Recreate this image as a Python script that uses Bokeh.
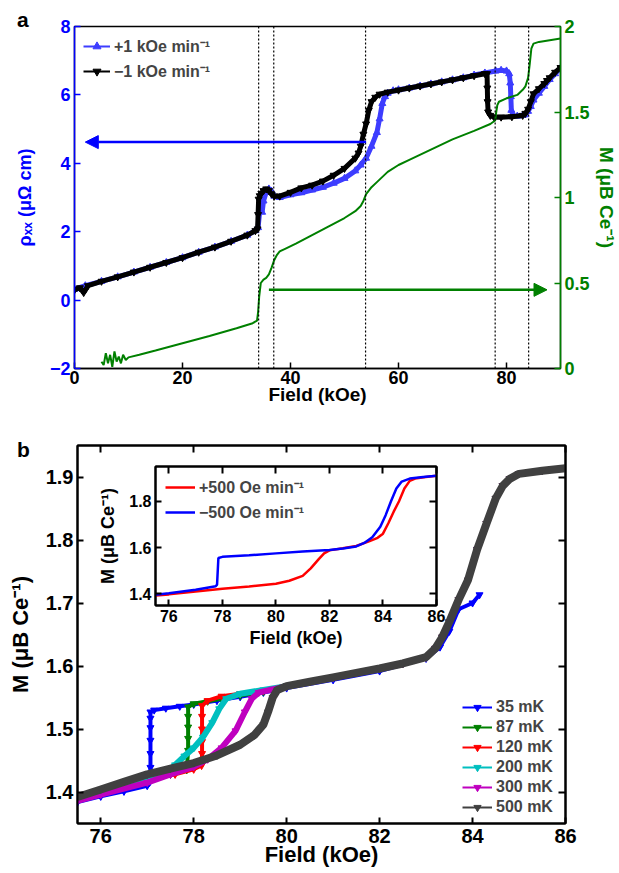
from bokeh.plotting import figure
from bokeh.models import (Range1d, LinearAxis, Span, Arrow, NormalHead, Legend,
                          LegendItem, FixedTicker, Div)
from bokeh.embed import file_html
from bokeh.resources import INLINE

FONT = "Liberation Sans"
NAN = float("nan")

# ---------------- panel a data ----------------
a_x_range = (0, 90)
a_rho_range = (-2, 8)
a_M_range = (0, 2)
a_x_ticks = [0, 20, 40, 60, 80]
a_rho_ticks = [-2, 0, 2, 4, 6, 8]
a_rho_labels = ["\u22122", "0", "2", "4", "6", "8"]
a_M_ticks = [0, 0.5, 1, 1.5, 2]
a_M_labels = ["0", "0.5", "1", "1.5", "2"]

a_up_F = [0, 2, 5, 8, 11, 14, 17, 20, 23, 26, 29, 32, 33.5, 34.0, 34.4, 34.75, 35.0, 35.5, 36.0, 36.5,
          37.0, 38, 40, 42, 44, 46, 48, 50, 52, 53, 54, 55, 56, 56.5, 57, 57.5, 58, 59, 60, 62,
          64, 66, 68, 70, 72, 74, 76, 78, 79, 80, 80.5, 80.7, 80.8, 80.9, 81.2, 82, 83, 83.5, 84, 84.5,
          85, 86, 87, 88, 89, 90]
a_up_rho = [0.32, 0.42, 0.55, 0.68, 0.82, 0.96, 1.10, 1.24, 1.40, 1.55, 1.72, 1.90, 2.03, 2.12, 2.75, 2.57, 2.90, 3.15, 3.25, 3.18,
            3.04, 3.00, 3.08, 3.14, 3.22, 3.30, 3.42, 3.56, 3.78, 3.95, 4.15, 4.50, 4.90, 5.30, 5.75, 5.95, 6.05, 6.12, 6.15, 6.20,
            6.26, 6.32, 6.38, 6.44, 6.50, 6.58, 6.64, 6.70, 6.72, 6.70, 6.62, 6.35, 5.95, 5.55, 5.40, 5.38, 5.40, 5.42, 5.52, 5.66,
            5.85, 6.05, 6.25, 6.45, 6.62, 6.78]

a_dn_F = [0, 1.0, 1.7, 2.5, 5, 8, 11, 14, 17, 20, 23, 26, 29, 32, 33.5, 33.9, 34.0, 34.1, 34.3, 34.6,
          35.0, 35.5, 36.0, 36.5, 37.0, 38, 40, 42, 44, 46, 48, 50, 52, 52.6, 53, 53.5, 54, 54.5, 55, 55.7,
          56.5, 58, 60, 62, 64, 66, 68, 70, 72, 74, 76, 76.4, 76.45, 76.5, 76.6, 77.0, 77.7, 79, 81, 83,
          83.5, 84, 84.5, 85, 86, 87, 87.5, 88, 89, 90]
a_dn_rho = [0.30, 0.36, 0.22, 0.42, 0.55, 0.68, 0.82, 0.96, 1.10, 1.24, 1.40, 1.55, 1.72, 1.90, 2.03, 2.08, 2.50, 2.95, 3.05, 3.12,
            3.20, 3.25, 3.20, 3.10, 3.04, 3.04, 3.15, 3.28, 3.36, 3.48, 3.65, 3.85, 4.15, 4.30, 4.50, 4.85, 5.15, 5.55, 5.80, 5.93,
            6.02, 6.08, 6.14, 6.20, 6.26, 6.32, 6.38, 6.44, 6.50, 6.56, 6.62, 6.62, 6.20, 5.80, 5.50, 5.40, 5.35, 5.35, 5.36, 5.40,
            5.46, 5.58, 5.80, 6.03, 6.18, 6.33, 6.42, 6.50, 6.66, 6.80]

a_M_F = [5.0, 5.4, 5.8, 6.2, 6.6, 7.0, 7.4, 7.8, 8.2, 8.6, 9.0, 9.5, 10, 12, 15, 20, 25, 30, 33, 33.8,
         34.0, 34.2, 34.5, 35.0, 35.5, 36.0, 36.5, 37.0, 37.5, 38, 39, 41, 44, 47, 50, 52, 53, 53.5, 54, 54.5,
         55, 56, 58, 60, 62, 66, 70, 74, 77, 77.9, 78.1, 78.3, 78.6, 80, 82, 83, 83.5, 84, 84.3, 84.6,
         85, 86, 88, 90]
a_M = [0.04, 0.02, 0.09, 0.03, 0.08, 0.01, 0.10, 0.04, 0.07, 0.03, 0.08, 0.05, 0.065, 0.08, 0.105, 0.148, 0.19, 0.235, 0.265, 0.28,
       0.33, 0.42, 0.50, 0.52, 0.53, 0.55, 0.59, 0.635, 0.665, 0.685, 0.70, 0.73, 0.78, 0.83, 0.88, 0.92, 0.95, 0.98, 1.02, 1.04,
       1.06, 1.09, 1.15, 1.19, 1.22, 1.28, 1.34, 1.39, 1.43, 1.45, 1.50, 1.54, 1.56, 1.58, 1.60, 1.63, 1.65, 1.70, 1.78, 1.87,
       1.90, 1.91, 1.92, 1.93]

a_dotted_F = [34.1, 36.9, 53.9, 77.9, 84.1]
a_arrow_rho_x = [54.0, 2.0]
a_arrow_rho_y = 4.62
a_arrow_M_x = [36.0, 87.5]
a_arrow_M_y = 0.46

# ---------------- panel b data ----------------
b_x_range = (75.5, 86)
b_y_range = (1.35, 1.95)
b_x_ticks = [76, 78, 80, 82, 84, 86]
b_y_ticks = [1.4, 1.5, 1.6, 1.7, 1.8, 1.9]

b_hi_F = [80.0, 80.5, 81.0, 81.5, 82.0, 82.5, 83.0, 83.2, 83.35, 83.5, 83.7, 83.9, 84.1, 84.3, 84.5, 84.65, 84.8, 85.0, 85.5, 86.0]
b_hi_M = [1.568, 1.575, 1.582, 1.589, 1.596, 1.604, 1.614, 1.628, 1.646, 1.670, 1.705, 1.736, 1.785, 1.826, 1.866, 1.886, 1.897, 1.905, 1.910, 1.914]

b35_F = [75.5, 76.0, 76.5, 77.0, 77.05, 77.07, 77.07, 77.07, 77.07, 77.07, 77.07, 77.15, 77.4, 77.7, 78.0, 78.5,
         79.0, 79.5, 80.0, 81.0, 82.0, 83.0, 83.3, 83.5, 83.7, 84.0, 84.15]
b35_M = [1.384, 1.393, 1.401, 1.410, 1.415, 1.439, 1.461, 1.482, 1.502, 1.517, 1.527, 1.530, 1.533, 1.536, 1.539, 1.545,
         1.551, 1.558, 1.565, 1.578, 1.592, 1.612, 1.630, 1.655, 1.690, 1.700, 1.713]
b87_F = [75.5, 76.0, 77.0, 77.5, 77.85, 77.88, 77.88, 77.88, 77.88, 77.88, 78.0, 78.3, 78.6, 79.0, 79.5]
b87_M = [1.388, 1.398, 1.418, 1.428, 1.435, 1.466, 1.485, 1.503, 1.520, 1.535, 1.540, 1.544, 1.548, 1.553, 1.559]
b120_F = [75.5, 76.0, 77.0, 77.6, 78.0, 78.17, 78.18, 78.18, 78.18, 78.18, 78.18, 78.3, 78.6, 79.0, 79.5]
b120_M = [1.388, 1.398, 1.418, 1.428, 1.436, 1.442, 1.461, 1.480, 1.500, 1.520, 1.537, 1.545, 1.552, 1.556, 1.561]
b200_F = [75.5, 76.0, 77.0, 77.4, 77.6, 77.8, 78.0, 78.2, 78.4, 78.55, 78.7, 79.0, 79.5]
b200_M = [1.388, 1.398, 1.418, 1.430, 1.443, 1.457, 1.470, 1.487, 1.510, 1.532, 1.548, 1.556, 1.562]
b300_F = [75.5, 76.0, 77.0, 77.5, 78.0, 78.3, 78.6, 78.9, 79.1, 79.25, 79.4, 79.7]
b300_M = [1.386, 1.396, 1.415, 1.428, 1.440, 1.452, 1.470, 1.497, 1.527, 1.548, 1.558, 1.563]
b500_F = [75.5, 76.0, 76.5, 77.0, 77.5, 78.0, 78.5, 79.0, 79.3, 79.5, 79.6, 79.7, 79.8]
b500_M = [1.392, 1.404, 1.416, 1.428, 1.437, 1.446, 1.458, 1.475, 1.490, 1.507, 1.527, 1.550, 1.562]

b_labels = ["35 mK", "87 mK", "120 mK", "200 mK", "300 mK", "500 mK"]
b_colors = ["#0000ff", "#008000", "#ff0000", "#00bfbf", "#bf00bf", "#404040"]
b_widths = [4, 4, 4, 6, 6, 8]

# ---------------- inset data ----------------
i_x_range = (75.5, 86)
i_y_range = (1.35, 1.95)
i_x_ticks = [76, 78, 80, 82, 84, 86]
i_y_ticks = [1.4, 1.6, 1.8]
i_up_F = [75.5, 76, 77, 78, 79, 80, 80.5, 81, 81.3, 81.6, 81.8, 82.0, 82.5, 83.0, 83.5, 83.8, 84.0, 84.2, 84.4, 84.6,
          84.8, 85.0, 85.2, 85.6, 86.0]
i_up_M = [1.393, 1.398, 1.410, 1.422, 1.432, 1.444, 1.457, 1.478, 1.510, 1.550, 1.575, 1.588, 1.597, 1.607, 1.628, 1.642,
          1.660, 1.705, 1.755, 1.800, 1.855, 1.888, 1.898, 1.905, 1.910]
i_dn_F = [75.5, 76, 77, 77.75, 77.8, 77.85, 78, 79, 80, 81, 82, 82.5, 83.0, 83.3, 83.6, 83.9, 84.1, 84.3, 84.5, 84.7,
          85.0, 85.5, 86.0]
i_dn_M = [1.396, 1.403, 1.418, 1.433, 1.440, 1.555, 1.560, 1.567, 1.575, 1.583, 1.590, 1.596, 1.605, 1.620, 1.645, 1.690,
          1.740, 1.800, 1.855, 1.885, 1.898, 1.905, 1.910]

BLUE_AX = "#0000ff"
BLUE_D = "#3d3dff"
GREEN = "#008000"


def abspos(left, top):
    return {"position": "absolute", "left": f"{left}px", "top": f"{top}px"}


def style_axis(ax, size, label_size, color="black", lw=1.5, ticks=None, labels=None,
               standoff=4, label_standoff=5):
    ax.axis_line_color = color
    ax.axis_line_width = lw
    ax.major_tick_line_color = color
    ax.major_tick_line_width = lw
    ax.major_tick_in = 6
    ax.major_tick_out = 0
    ax.minor_tick_line_color = None
    ax.major_label_text_font = FONT
    ax.major_label_text_font_style = "bold"
    ax.major_label_text_font_size = f"{size}px"
    ax.major_label_text_color = color
    ax.major_label_standoff = standoff
    ax.axis_label_text_font = FONT
    ax.axis_label_text_font_style = "bold"
    ax.axis_label_text_font_size = f"{label_size}px"
    ax.axis_label_text_color = color
    ax.axis_label_standoff = label_standoff
    if ticks is not None:
        ax.ticker = FixedTicker(ticks=ticks)
        if labels is not None:
            ax.major_label_overrides = dict(zip(ticks, labels))


def tick_only_axis(fig, side, ticks, lw):
    # ticks without labels: minor ticks carry no labels
    ax = LinearAxis(ticker=FixedTicker(ticks=[], minor_ticks=ticks))
    ax.axis_line_color = "black"
    ax.axis_line_width = lw
    ax.major_tick_line_color = None
    ax.minor_tick_line_color = "black"
    ax.minor_tick_line_width = lw
    ax.minor_tick_in = 7
    ax.minor_tick_out = 0
    ax.major_label_standoff = 0
    fig.add_layout(ax, side)
    return ax


def style_legend(leg, size, gw, gh, spacing, padding, margin, loc):
    leg.location = loc
    leg.border_line_alpha = 0
    leg.background_fill_alpha = 0
    leg.label_text_font = FONT
    leg.label_text_font_style = "bold"
    leg.label_text_font_size = f"{size}px"
    leg.glyph_width = gw
    leg.glyph_height = gh
    leg.label_height = gh
    leg.spacing = spacing
    leg.padding = padding
    leg.margin = margin
    leg.label_standoff = 4


# ================= panel a =================
pa = figure(frame_width=486, frame_height=342, x_range=Range1d(*a_x_range), y_range=Range1d(*a_rho_range),
            output_backend="svg", toolbar_location=None,
            min_border_left=74, min_border_right=58, min_border_top=26, min_border_bottom=39,
            outline_line_color="black", outline_line_width=1.5, styles=abspos(0, 0))
pa.grid.visible = False
pa.extra_y_ranges = {"M": Range1d(*a_M_range)}
ax_ra = LinearAxis(y_range_name="M", axis_label="M (\u03bcB Ce\u207b\u00b9)")
pa.add_layout(ax_ra, "right")
pa.xaxis[0].axis_label = "Field (kOe)"
pa.left[0].axis_label = "\u03c1\u2093\u2093 (\u03bc\u03a9 cm)"
style_axis(pa.below[0], 18, 19, ticks=a_x_ticks, standoff=2, label_standoff=-3)
style_axis(pa.left[0], 18, 18, color=BLUE_AX, ticks=a_rho_ticks, labels=a_rho_labels, label_standoff=12)
style_axis(ax_ra, 18, 19, color=GREEN, ticks=a_M_ticks, labels=a_M_labels, label_standoff=3)

for f in a_dotted_F:
    pa.add_layout(Span(location=f, dimension="height", line_color="black", line_width=1.2, line_dash="2 2"))

pa.line(a_up_F, a_up_rho, line_color=BLUE_D, line_width=5)
pa.scatter(a_up_F, a_up_rho, marker="triangle", size=7, color=BLUE_D)
pa.line(a_dn_F, a_dn_rho, line_color="black", line_width=5)
pa.scatter(a_dn_F, a_dn_rho, marker="inverted_triangle", size=7, color="black")
pa.line(a_M_F, a_M, y_range_name="M", line_color=GREEN, line_width=2)

pa.add_layout(Arrow(end=NormalHead(size=13, fill_color=BLUE_AX, line_color=BLUE_AX),
                    x_start=a_arrow_rho_x[0], y_start=a_arrow_rho_y, x_end=a_arrow_rho_x[1], y_end=a_arrow_rho_y,
                    line_color=BLUE_AX, line_width=2.5))
pa.add_layout(Arrow(end=NormalHead(size=13, fill_color=GREEN, line_color=GREEN),
                    x_start=a_arrow_M_x[0], y_start=a_arrow_M_y, x_end=a_arrow_M_x[1], y_end=a_arrow_M_y,
                    line_color=GREEN, line_width=2.5, y_range_name="M"))

la1 = pa.line([NAN], [NAN], line_color=BLUE_D, line_width=2)
ls1 = pa.scatter([NAN], [NAN], marker="triangle", size=7, color=BLUE_D)
la2 = pa.line([NAN], [NAN], line_color="black", line_width=2)
ls2 = pa.scatter([NAN], [NAN], marker="inverted_triangle", size=7, color="black")
leg_a = Legend(items=[LegendItem(label="+1 kOe min\u207b\u00b9", renderers=[la1, ls1]),
                      LegendItem(label="\u22121 kOe min\u207b\u00b9", renderers=[la2, ls2])])
style_legend(leg_a, 16, 27, 20, 3, 9, 0, "top_left")
pa.add_layout(leg_a)

# ================= panel b =================
pb = figure(frame_width=488, frame_height=378, x_range=Range1d(*b_x_range), y_range=Range1d(*b_y_range),
            output_backend="svg", toolbar_location=None,
            min_border_left=77, min_border_right=30, min_border_top=38, min_border_bottom=48,
            outline_line_color="black", outline_line_width=2, styles=abspos(0, 407))
pb.grid.visible = False
pb.xaxis[0].axis_label = "Field (kOe)"
pb.yaxis[0].axis_label = "M (\u03bcB Ce\u207b\u00b9)"
style_axis(pb.below[0], 20, 22, lw=2, ticks=b_x_ticks, standoff=5, label_standoff=-4)
style_axis(pb.left[0], 20, 22, lw=2, ticks=b_y_ticks, label_standoff=10)
tick_only_axis(pb, "above", b_x_ticks, 2)
tick_only_axis(pb, "right", b_y_ticks, 2)

series = [(b35_F, b35_M), (b87_F + b_hi_F, b87_M + b_hi_M), (b120_F + b_hi_F, b120_M + b_hi_M),
          (b200_F + b_hi_F, b200_M + b_hi_M), (b300_F + b_hi_F, b300_M + b_hi_M),
          (b500_F + b_hi_F, b500_M + b_hi_M)]
for (fx, my), col, lw in zip(series, b_colors, b_widths):
    pb.line(fx, my, line_color=col, line_width=lw)
    pb.scatter(fx, my, marker="inverted_triangle", size=7, color=col)
items = []
for col, lab in zip(b_colors, b_labels):
    dl = pb.line([NAN], [NAN], line_color=col, line_width=2)
    ds = pb.scatter([NAN], [NAN], marker="inverted_triangle", size=7, color=col)
    items.append(LegendItem(label=lab, renderers=[dl, ds]))
leg_b = Legend(items=items)
style_legend(leg_b, 16, 30, 18, 2, 5, 0, (380, 2))
pb.add_layout(leg_b)

# ================= inset =================
pi = figure(frame_width=281, frame_height=139, x_range=Range1d(*i_x_range), y_range=Range1d(*i_y_range),
            output_backend="svg", toolbar_location=None,
            min_border_left=57, min_border_right=16, min_border_top=5, min_border_bottom=48,
            outline_line_color="black", outline_line_width=2,
            background_fill_color="white", border_fill_alpha=0,
            styles=abspos(95, 461))
pi.grid.visible = False
pi.xaxis[0].axis_label = "Field (kOe)"
pi.yaxis[0].axis_label = "M (\u03bcB Ce\u207b\u00b9)"
style_axis(pi.below[0], 16, 18, lw=2, ticks=i_x_ticks, standoff=4, label_standoff=3)
style_axis(pi.left[0], 16, 18, lw=2, ticks=i_y_ticks, label_standoff=8)
tick_only_axis(pi, "above", i_x_ticks, 2)
tick_only_axis(pi, "right", i_y_ticks, 2)
r_up = pi.line(i_up_F, i_up_M, line_color="#ff0000", line_width=2.5)
r_dn = pi.line(i_dn_F, i_dn_M, line_color="#0000ff", line_width=2.5)
leg_i = Legend(items=[LegendItem(label="+500 Oe min\u207b\u00b9", renderers=[r_up]),
                      LegendItem(label="\u2212500 Oe min\u207b\u00b9", renderers=[r_dn])])
style_legend(leg_i, 16, 30, 20, 3, 10, 0, "top_left")
pi.add_layout(leg_i)

# ================= panel letters =================
LETTER = '<span style="font-family: \'Liberation Sans\'; font-weight: bold; font-size: 21px; line-height: 24px;">{}</span>'
div_a = Div(text=LETTER.format("a"), width=20, height=24, styles=abspos(12, 3))
div_b = Div(text=LETTER.format("b"), width=20, height=24, styles=abspos(12, 433))

roots = [pa, pb, pi, div_a, div_b]
open("out.html", "w").write(file_html(roots, INLINE))
